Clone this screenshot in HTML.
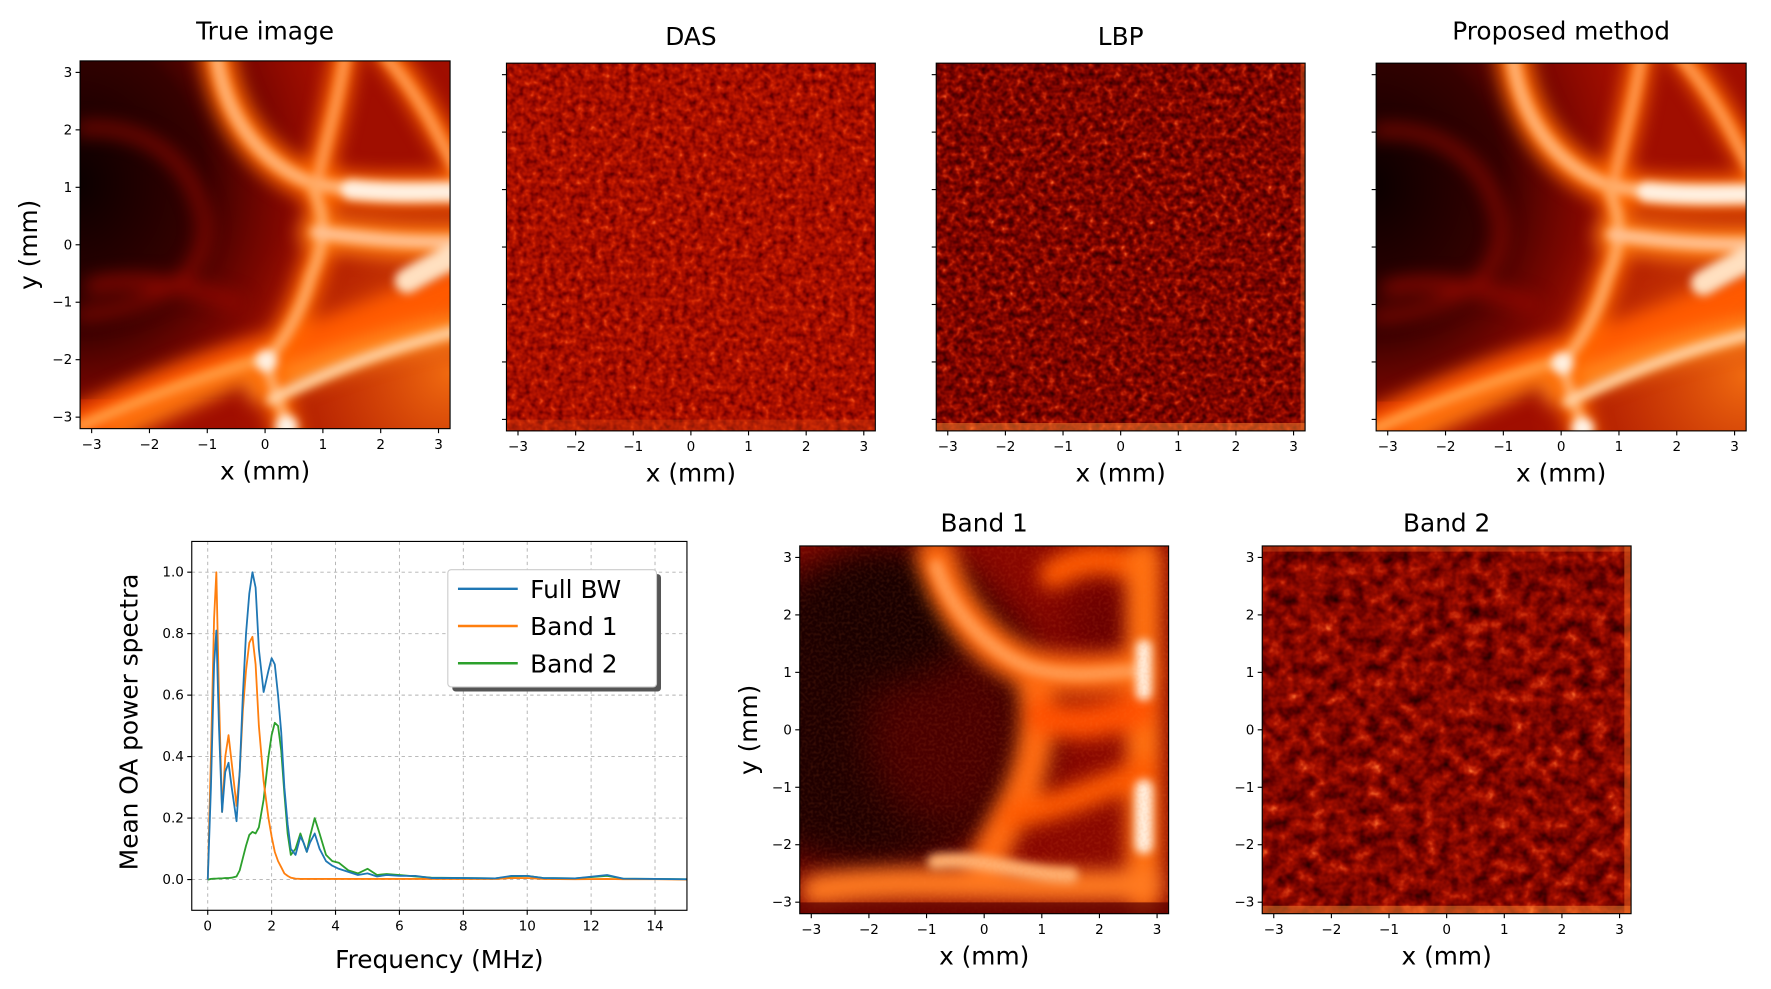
<!DOCTYPE html>
<html><head><meta charset="utf-8">
<style>
html,body{margin:0;padding:0;background:#fff;}
body{width:1771px;height:984px;overflow:hidden;}
#wrap{width:1570px;height:872px;transform:scale(1.128);transform-origin:0 0;}
text{font-family:"DejaVu Sans","Liberation Sans",sans-serif;fill:#000;}
</style></head>
<body>
<div id="wrap">
<svg id="fig" width="1570" height="872" viewBox="0 0 1570 872" xmlns="http://www.w3.org/2000/svg">
<defs>
  <filter id="blur8" filterUnits="userSpaceOnUse" x="-100" y="-100" width="600" height="600" color-interpolation-filters="sRGB"><feGaussianBlur stdDeviation="8"/></filter>
  <filter id="blur4" filterUnits="userSpaceOnUse" x="-100" y="-100" width="600" height="600" color-interpolation-filters="sRGB"><feGaussianBlur stdDeviation="4"/></filter>
  <filter id="blur16" filterUnits="userSpaceOnUse" x="-200" y="-200" width="800" height="800" color-interpolation-filters="sRGB"><feGaussianBlur stdDeviation="18"/></filter>
  <filter id="noiseDAS" x="0" y="0" width="100%" height="100%" color-interpolation-filters="sRGB">
    <feTurbulence type="fractalNoise" baseFrequency="0.17" numOctaves="2" seed="3"/>
    <feColorMatrix type="matrix" values="1 0 0 0 0  1 0 0 0 0  1 0 0 0 0  0 0 0 0 1"/>
    <feComponentTransfer>
      <feFuncR type="table" tableValues="0.25 0.4 0.55 0.66 0.76 0.88 1"/>
      <feFuncG type="table" tableValues="0 0 0.02 0.06 0.1 0.22 0.45"/>
      <feFuncB type="table" tableValues="0 0 0 0 0 0.05 0.2"/>
    </feComponentTransfer>
  </filter>
  <filter id="noiseLBP" x="0" y="0" width="100%" height="100%" color-interpolation-filters="sRGB">
    <feTurbulence type="fractalNoise" baseFrequency="0.17" numOctaves="2" seed="7"/>
    <feColorMatrix type="matrix" values="1.1 0 0 0 -0.05  1.1 0 0 0 -0.05  1.1 0 0 0 -0.05  0 0 0 0 1"/>
    <feComponentTransfer>
      <feFuncR type="table" tableValues="0.1 0.25 0.38 0.5 0.64 0.8 1"/>
      <feFuncG type="table" tableValues="0 0 0 0.02 0.06 0.18 0.45"/>
      <feFuncB type="table" tableValues="0 0 0 0 0 0.05 0.2"/>
    </feComponentTransfer>
  </filter>
  <filter id="noiseB2" x="0" y="0" width="100%" height="100%" color-interpolation-filters="sRGB">
    <feTurbulence type="fractalNoise" baseFrequency="0.08" numOctaves="3" seed="11"/>
    <feColorMatrix type="matrix" values="1.1 0 0 0 -0.05  1.1 0 0 0 -0.05  1.1 0 0 0 -0.05  0 0 0 0 1"/>
    <feComponentTransfer>
      <feFuncR type="table" tableValues="0.1 0.25 0.4 0.52 0.65 0.8 1"/>
      <feFuncG type="table" tableValues="0 0 0 0.03 0.06 0.18 0.45"/>
      <feFuncB type="table" tableValues="0 0 0 0 0 0.05 0.2"/>
    </feComponentTransfer>
  </filter>
  <filter id="grain" x="0" y="0" width="100%" height="100%" color-interpolation-filters="sRGB">
    <feTurbulence type="fractalNoise" baseFrequency="0.4" numOctaves="1" seed="5"/>
    <feColorMatrix type="matrix" values="0 0 0 0 1  0 0 0 0 0.5  0 0 0 0 0.2  0.6 0 0 0 -0.25"/>
  </filter>
  <radialGradient id="darkLeft" cx="0.12" cy="0.4" r="0.8">
    <stop offset="0" stop-color="#0a0000" stop-opacity="1"/>
    <stop offset="0.5" stop-color="#300000" stop-opacity="0.95"/>
    <stop offset="0.8" stop-color="#600000" stop-opacity="0.5"/>
    <stop offset="1" stop-color="#700000" stop-opacity="0"/>
  </radialGradient>
  <radialGradient id="orangeBR" cx="1" cy="0.85" r="0.6">
    <stop offset="0" stop-color="#f06a10" stop-opacity="1"/>
    <stop offset="1" stop-color="#e04000" stop-opacity="0"/>
  </radialGradient>
  <g id="vessels">
    <rect x="0" y="0" width="328" height="326" fill="#a00e00"/>
    <rect x="0" y="0" width="328" height="326" fill="url(#orangeBR)"/>
    <rect x="-40" y="-20" width="290" height="320" fill="url(#darkLeft)"/>
    <g filter="url(#blur8)" fill="none" stroke-linecap="round">
      <path d="M0,60 C60,55 100,90 110,140 C115,190 70,220 0,225" stroke="#8a0800" stroke-width="10"/>
      <path d="M-10,330 C60,295 120,272 160,262 C220,250 280,220 340,200" stroke="#ff5a00" stroke-width="36"/>
      <path d="M30,330 C80,305 130,285 160,270" stroke="#ff7a10" stroke-width="18"/>
      <path d="M160,292 C210,272 260,252 340,235" stroke="#ff8a20" stroke-width="24"/>
      <path d="M121,-10 C130,60 170,95 205,108 C250,118 290,115 340,115" stroke="#ff6a00" stroke-width="30"/>
      <path d="M235,-10 C228,40 218,70 212,100" stroke="#ff6a00" stroke-width="22"/>
      <path d="M270,-10 C300,30 315,60 340,100" stroke="#ff6a00" stroke-width="22"/>
      <path d="M205,110 C218,135 218,160 205,190 C195,225 180,250 165,265 C170,290 180,310 185,335" stroke="#ff6a00" stroke-width="24"/>
      <path d="M210,152 C250,157 290,162 340,160" stroke="#ff7a10" stroke-width="32"/>
      <path d="M10,200 C50,190 100,200 140,215" stroke="#900800" stroke-width="12"/>
    </g>
    <g filter="url(#blur4)" fill="none" stroke-linecap="round">
      <path d="M121,-5 C130,60 170,95 205,108 C250,118 290,115 335,115" stroke="#ffb070" stroke-width="12"/>
      <path d="M235,-5 C228,40 218,70 212,100" stroke="#ff9a50" stroke-width="9"/>
      <path d="M270,-5 C300,30 315,60 335,100" stroke="#ff9a50" stroke-width="9"/>
      <path d="M240,114 C280,118 310,116 340,116" stroke="#fff0e0" stroke-width="18"/>
      <path d="M205,110 C218,135 218,160 205,190 C195,225 180,250 165,265 C170,290 180,310 185,330" stroke="#ffa860" stroke-width="10"/>
      <path d="M210,152 C250,157 290,162 340,160" stroke="#ffc090" stroke-width="12"/>
      <path d="M170,300 C220,275 270,255 340,238" stroke="#ffd0a0" stroke-width="10"/>
      <path d="M0,324 C60,297 120,276 160,265" stroke="#ff9a40" stroke-width="10"/>
      <circle cx="165" cy="266" r="10" fill="#fff0e0" stroke="none"/>
      <circle cx="183" cy="324" r="10" fill="#fff4e8" stroke="none"/>
      <path d="M290,195 C312,182 325,176 340,170" stroke="#ffe0c0" stroke-width="22"/>
    </g>
  </g>
  <g id="band1img">
    <rect x="0" y="0" width="328" height="326" fill="#8a0800"/>
    <ellipse cx="60" cy="150" rx="160" ry="140" fill="#200000" filter="url(#blur16)"/>
    <ellipse cx="130" cy="160" rx="70" ry="90" fill="#4a0000" filter="url(#blur16)"/>
    <ellipse cx="80" cy="60" rx="70" ry="60" fill="#1a0000" filter="url(#blur16)"/>
    <ellipse cx="270" cy="70" rx="40" ry="40" fill="#6a0000" filter="url(#blur16)"/>
    <g filter="url(#blur8)" fill="none" stroke-linecap="round">
      <path d="M121,10 C135,60 170,95 205,108 C240,118 275,112 305,110" stroke="#ff6a10" stroke-width="36"/>
      <path d="M225,25 C255,5 295,10 305,30" stroke="#ff5a00" stroke-width="26"/>
      <path d="M305,10 L305,310" stroke="#ff7010" stroke-width="32"/>
      <path d="M205,110 C218,150 208,200 188,235 C175,260 165,280 160,295" stroke="#ff6a10" stroke-width="32"/>
      <path d="M15,305 C100,292 200,305 310,300" stroke="#ff7a20" stroke-width="28"/>
      <path d="M190,240 C230,230 270,215 305,200" stroke="#ff5a00" stroke-width="24"/>
      <path d="M215,150 C240,160 262,158 300,145" stroke="#ff5000" stroke-width="30"/>
    </g>
    <g filter="url(#blur4)" fill="none" stroke-linecap="round">
      <path d="M121,18 C135,60 170,95 205,108 C240,118 275,112 305,110" stroke="#ff9a50" stroke-width="12"/>
      <path d="M305,90 L305,130" stroke="#fff0e0" stroke-width="14"/>
      <path d="M305,215 L305,265" stroke="#fff0e0" stroke-width="16"/>
      <path d="M120,280 C160,275 200,292 240,292" stroke="#ffb070" stroke-width="14"/>
    </g>
    <rect x="0" y="0" width="328" height="326" filter="url(#grain)" opacity="0.5"/>
    <rect x="0" y="316" width="328" height="10" fill="#5a0000" opacity="0.7"/>
  </g>
</defs>
<g id="root"></g>
</svg>
</div>
<script>
// ---------- spectrum data ----------
const freqMHz = [0,0.1,0.2,0.27,0.35,0.45,0.55,0.65,0.75,0.9,1.0,1.1,1.2,1.3,1.4,1.5,1.6,1.75,1.9,2.0,2.1,2.2,2.3,2.4,2.5,2.6,2.75,2.9,3.0,3.1,3.2,3.35,3.5,3.7,3.9,4.1,4.4,4.7,5.0,5.3,5.6,6.0,6.5,7.0,8.0,9.0,9.5,10.0,10.5,11.5,12.5,13.0,14.0,15.0];
const fullBW = [0,0.3,0.7,0.81,0.5,0.22,0.35,0.38,0.3,0.19,0.35,0.6,0.8,0.93,1.0,0.95,0.75,0.61,0.68,0.72,0.7,0.6,0.48,0.3,0.18,0.1,0.08,0.14,0.12,0.09,0.12,0.15,0.1,0.06,0.045,0.035,0.025,0.015,0.02,0.01,0.015,0.012,0.012,0.005,0.005,0.004,0.012,0.012,0.005,0.004,0.015,0.003,0.002,0.001];
const band1 = [0,0.4,0.85,1.0,0.6,0.22,0.4,0.47,0.38,0.24,0.35,0.55,0.68,0.77,0.79,0.7,0.5,0.32,0.2,0.14,0.09,0.06,0.04,0.02,0.012,0.006,0.003,0.002,0.002,0.002,0.002,0.002,0.002,0.002,0.002,0.002,0.002,0.002,0.002,0.002,0.002,0.002,0.002,0.002,0.002,0.002,0.005,0.005,0.002,0.001,0.002,0.001,0.001,0];
const band2 = [0,0.002,0.003,0.003,0.004,0.004,0.005,0.005,0.006,0.01,0.03,0.07,0.11,0.145,0.155,0.15,0.17,0.26,0.4,0.47,0.51,0.5,0.42,0.28,0.15,0.08,0.1,0.15,0.12,0.09,0.14,0.2,0.15,0.08,0.06,0.055,0.03,0.02,0.035,0.015,0.018,0.015,0.01,0.006,0.005,0.004,0.01,0.012,0.005,0.004,0.012,0.003,0.002,0.001];
const seriesNames = ["Full BW","Band 1","Band 2"];
const xTicksMHz = [0,2,4,6,8,10,12,14];
const yTicksSpec = [0.0,0.2,0.4,0.6,0.8,1.0];
const mmTicks = [-3,-2,-1,0,1,2,3];

const NS = "http://www.w3.org/2000/svg";
const root = document.getElementById('root');
function el(tag, attrs, parent, txt){
  const e = document.createElementNS(NS, tag);
  for (const k in attrs) e.setAttribute(k, attrs[k]);
  if (txt !== undefined) e.textContent = txt;
  (parent||root).appendChild(e);
  return e;
}

function panel(name, x0, y0, w, h, kind, yLabels, title, titleY, yTitle){
  const g = el('g', {});
  
  
  const cid = 'clip-' + name;
  const cp = el('clipPath', {id: cid}, g);
  el('rect', {x: x0, y: y0, width: w, height: h}, cp);
  const img = el('g', {'clip-path': 'url(#' + cid + ')'}, g);
  
  
  if (kind === 'vessels') {
    el('use', {href: '#vessels', transform: 'translate(' + x0 + ',' + y0 + ')'}, img);
  } else if (kind === 'band1') {
    el('use', {href: '#band1img', transform: 'translate(' + x0 + ',' + y0 + ')'}, img);
  } else {
    const f = kind === 'das' ? 'noiseDAS' : (kind === 'lbp' ? 'noiseLBP' : 'noiseB2');
    el('rect', {x: x0, y: y0, width: w, height: h, filter: 'url(#' + f + ')'}, img);
    if (kind === 'lbp') {
      el('rect', {x: x0, y: y0 + h - 7, width: w, height: 7, fill: '#ff8a30', opacity: 0.5}, img);
      el('rect', {x: x0 + w - 4, y: y0, width: 4, height: h, fill: '#ff7020', opacity: 0.4}, img);
    }
    if (kind === 'b2') {
      el('rect', {x: x0, y: y0 + h - 7, width: w, height: 7, fill: '#ff8a30', opacity: 0.5}, img);
      el('rect', {x: x0 + w - 6, y: y0, width: 6, height: h, fill: '#ff7020', opacity: 0.5}, img);
      el('rect', {x: x0, y: y0, width: w, height: 5, fill: '#ff6a20', opacity: 0.35}, img);
    }
    if (kind === 'das') {
      el('rect', {x: x0, y: y0 + h - 10, width: w, height: 10, fill: '#e05010', opacity: 0.3}, img);
    }
  }
  el('rect', {x: x0, y: y0, width: w, height: h, fill: 'none', stroke: '#000', 'stroke-width': 1}, g);
  const sx = v => x0 + (v + 3.2) / 6.4 * w;
  const sy = v => y0 + (3.2 - v) / 6.4 * h;
  for (const t of mmTicks) {
    el('line', {x1: sx(t), x2: sx(t), y1: y0 + h, y2: y0 + h + 4, stroke: '#000', 'stroke-width': 1}, g);
    const lt = el('text', {x: sx(t), y: y0 + h + 18, 'font-size': 12, 'text-anchor': 'middle'}, g, t < 0 ? '\u2212' + (-t) : String(t));
    
    
    el('line', {x1: x0 - 4, x2: x0, y1: sy(t), y2: sy(t), stroke: '#000', 'stroke-width': 1}, g);
    if (yLabels) {
      const ly = el('text', {x: x0 - 7, y: sy(t) + 4, 'font-size': 12, 'text-anchor': 'end'}, g, t < 0 ? '\u2212' + (-t) : String(t));
      
      
    }
  }
  const xl = el('text', {x: x0 + w / 2, y: y0 + h + 45, 'font-size': 22, 'text-anchor': 'middle'}, g, 'x (mm)');
  
  
  const tt = el('text', {x: x0 + w / 2, y: titleY, 'font-size': 22, 'text-anchor': 'middle'}, g, title);
  
  
  if (yTitle) {
    const cx = x0 - 38, cy = y0 + h / 2;
    const yl = el('text', {x: cx, y: cy, 'font-size': 22, 'text-anchor': 'middle', transform: 'rotate(-90 ' + cx + ' ' + cy + ')'}, g, 'y (mm)');
    
    
  }
}
panel('true-image', 71, 54, 328, 326, 'vessels', true, 'True image', 35, true);
panel('das', 449, 56, 327, 326, 'das', false, 'DAS', 40, false);
panel('lbp', 830, 56, 327, 326, 'lbp', false, 'LBP', 40, false);
panel('proposed', 1220, 56, 328, 326, 'vessels', false, 'Proposed method', 35, false);
panel('band1', 709, 484, 327, 326, 'band1', true, 'Band 1', 471, true);
panel('band2', 1119, 484, 327, 326, 'b2', true, 'Band 2', 471, false);

// ---------- spectrum ----------
const AX = {x0: 170, y0: 480, w: 439, h: 327, xmin: -0.5, xmax: 15, ymin: -0.1, ymax: 1.1};
const fx = v => AX.x0 + (v - AX.xmin) / (AX.xmax - AX.xmin) * AX.w;
const fy = v => AX.y0 + (AX.ymax - v) / (AX.ymax - AX.ymin) * AX.h;
const sg = el('g', {});


for (const t of xTicksMHz) {
  el('line', {x1: fx(t), x2: fx(t), y1: AX.y0, y2: AX.y0 + AX.h, stroke: '#b0b0b0', 'stroke-width': 0.8, 'stroke-dasharray': '3,3'}, sg);
  el('line', {x1: fx(t), x2: fx(t), y1: AX.y0 + AX.h, y2: AX.y0 + AX.h + 4, stroke: '#000'}, sg);
  const t1 = el('text', {x: fx(t), y: AX.y0 + AX.h + 18, 'font-size': 12, 'text-anchor': 'middle'}, sg, String(t));
  
  
}
for (const t of yTicksSpec) {
  el('line', {x1: AX.x0, x2: AX.x0 + AX.w, y1: fy(t), y2: fy(t), stroke: '#b0b0b0', 'stroke-width': 0.8, 'stroke-dasharray': '3,3'}, sg);
  el('line', {x1: AX.x0 - 4, x2: AX.x0, y1: fy(t), y2: fy(t), stroke: '#000'}, sg);
  const t2 = el('text', {x: AX.x0 - 7, y: fy(t) + 4, 'font-size': 12, 'text-anchor': 'end'}, sg, t.toFixed(1));
  
  
}
const seriesVals = [fullBW, band1, band2];
const seriesColors = ['#1f77b4', '#ff7f0e', '#2ca02c'];
const clipS = el('clipPath', {id: 'clip-spec'}, sg);
el('rect', {x: AX.x0, y: AX.y0, width: AX.w, height: AX.h}, clipS);
const lines = el('g', {'clip-path': 'url(#clip-spec)'}, sg);
for (let s = 2; s >= 0; s--) {
  const pts = freqMHz.map((f, i) => fx(f).toFixed(1) + ',' + fy(seriesVals[s][i]).toFixed(1)).join(' ');
  const pl = el('polyline', {points: pts, fill: 'none', stroke: seriesColors[s], 'stroke-width': 1.6, 'stroke-linejoin': 'round'}, lines);
  
  
}
el('rect', {x: AX.x0, y: AX.y0, width: AX.w, height: AX.h, fill: 'none', stroke: '#000', 'stroke-width': 1}, sg);
const xt = el('text', {x: AX.x0 + AX.w / 2, y: 858, 'font-size': 22, 'text-anchor': 'middle'}, sg, 'Frequency (MHz)');


const yt = el('text', {x: 122, y: 640, 'font-size': 22, 'text-anchor': 'middle', transform: 'rotate(-90 122 640)'}, sg, 'Mean OA power spectra');


const lg = el('g', {}, sg);


el('rect', {x: 401, y: 509, width: 185, height: 104, fill: '#555', rx: 3}, lg);
el('rect', {x: 397, y: 505, width: 185, height: 104, fill: '#fff', stroke: '#ccc', rx: 3}, lg);
seriesNames.forEach((n, i) => {
  const yy = 522 + i * 33;
  const ll = el('line', {x1: 406, x2: 459, y1: yy, y2: yy, stroke: seriesColors[i], 'stroke-width': 2.2}, lg);
  
  
  const lt = el('text', {x: 470, y: yy + 8, 'font-size': 22}, lg, n);
  
  
});
</script>
</body></html>
